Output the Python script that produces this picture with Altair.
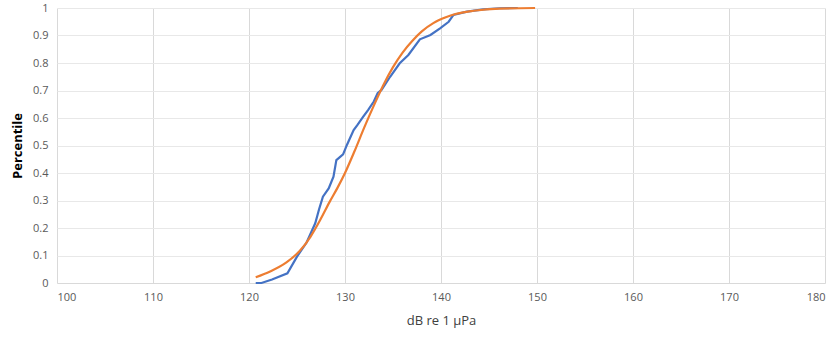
import altair as alt
import pandas as pd

blue_x = [120.7, 121.3, 122.4, 124.0, 125.0, 126.0, 126.9, 127.3, 127.7, 128.3, 128.8, 129.1,
          129.8, 130.2, 130.9, 131.3, 131.9, 132.4, 133.0, 133.4, 133.8, 134.7, 135.7, 136.6, 137.8,
          138.9, 139.9, 140.8, 141.3, 142.7, 144.4, 146.1, 148.0]
blue_y = [0.0, 0.0, 0.013, 0.035, 0.096, 0.147, 0.217, 0.268, 0.314, 0.344, 0.387, 0.447,
          0.468, 0.502, 0.556, 0.575, 0.605, 0.629, 0.660, 0.690, 0.702, 0.750, 0.799, 0.829, 0.886,
          0.902, 0.926, 0.950, 0.975, 0.987, 0.995, 0.999, 1.0]

orange_x = [120.7, 122.2, 123.9, 125.3, 126.4, 127.4, 128.4, 129.2, 130.0, 131.0, 132.0, 133.0,
            134.0, 135.0, 136.0, 137.0, 138.0, 139.2, 140.5, 141.5, 143.4, 146.1, 149.8]
orange_y = [0.021, 0.042, 0.075, 0.117, 0.168, 0.228, 0.295, 0.345, 0.40, 0.48, 0.565, 0.645,
            0.72, 0.785, 0.838, 0.88, 0.915, 0.945, 0.966, 0.978, 0.990, 0.998, 1.0]

x_ticks = [100, 110, 120, 130, 140, 150, 160, 170, 180]
y_ticks = [0, 0.1, 0.2, 0.3, 0.4, 0.5, 0.6, 0.7, 0.8, 0.9, 1.0]

blue_df = pd.DataFrame({"x": blue_x, "y": blue_y, "o": range(len(blue_x))})
orange_df = pd.DataFrame({"x": orange_x, "y": orange_y, "o": range(len(orange_x))})

font = "Open Sans"

x_enc = alt.X("x:Q", scale=alt.Scale(domain=[100, 180], nice=False),
              axis=alt.Axis(values=x_ticks, title="dB re 1 μPa", grid=True, gridColor="#d9d9d9",
                            domainColor="#d9d9d9", ticks=False, labelColor="#595959", labelFontSize=11,
                            labelFont=font, labelPadding=8, titleFont=font, titleFontSize=13,
                            titleFontWeight="normal", titleColor="#404040", titlePadding=12))
y_enc = alt.Y("y:Q", scale=alt.Scale(domain=[0, 1], nice=False),
              axis=alt.Axis(values=y_ticks, format=".1~f", title="Percentile", grid=True,
                            gridColor="#e8e8e8", domain=False, ticks=False, labelColor="#595959",
                            labelFontSize=11, labelFont=font, labelPadding=9, titleFont=font,
                            titleFontSize=13, titleFontWeight="bold", titleColor="#000000",
                            titlePadding=8))

blue = alt.Chart(blue_df).mark_line(strokeWidth=2.2, color="#4472C4").encode(
    x=x_enc, y=y_enc, order="o:Q")
orange = alt.Chart(orange_df).mark_line(strokeWidth=2.2, color="#ED7D31",
                                        interpolate="monotone").encode(
    x=x_enc, y=y_enc, order="o:Q")

chart = alt.layer(blue, orange).properties(
    width=768, height=275,
    autosize=alt.AutoSizeParams(type="none"),
    padding={"left": 57, "top": 8, "right": 10, "bottom": 56},
).configure_view(stroke=None)

chart.save("out.html", embed_options={"renderer": "svg", "actions": False})
